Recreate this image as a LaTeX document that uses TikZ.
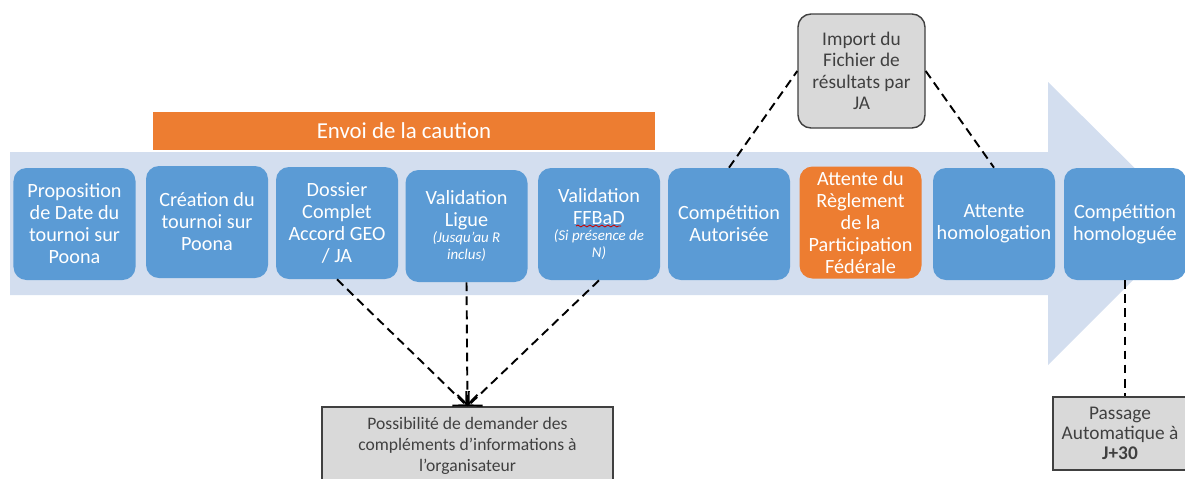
\documentclass[tikz,border=0pt]{standalone}
\usepackage{fontspec}
\setmainfont{Carlito}
\usetikzlibrary{arrows.meta, positioning, decorations.pathmorphing}

\definecolor{stepblue}{HTML}{5B9BD5}
\definecolor{bandblue}{HTML}{D3DEEF}
\definecolor{cautionorange}{HTML}{ED7D31}
\definecolor{notegray}{HTML}{D9D9D9}
\definecolor{notedark}{HTML}{404040}
\newcommand{\smallit}{\fontsize{8.5}{9.5}\selectfont\itshape}

\begin{document}
\begin{tikzpicture}[x=0.2mm,y=-0.2mm,
    stepbox/.style={fill=stepblue, rounded corners=2.6mm, text=white, align=center,
      minimum width=24.4mm, minimum height=22.4mm, inner sep=0.5mm,
      font=\fontsize{11.5}{12.5}\selectfont},
    notebox/.style={draw=notedark, line width=0.8pt, fill=notegray, text=notedark,
      align=center, inner sep=0.5mm},
    dashlink/.style={line width=1.1pt, dash pattern=on 5pt off 3pt}]
    \clip (0,0) rectangle (1185,478);

    % Background arrow
    \fill[bandblue] (10,152) -- (1048,152) -- (1048,82) -- (1190,223)
        -- (1048,365) -- (1048,295) -- (10,295) -- cycle;

    % Caution bar
    \node[fill=cautionorange, text=white, minimum width=100.4mm, minimum height=7.6mm,
        font=\fontsize{13}{14}\selectfont] (caution) at (404,131) {Envoi de la caution};

    % Steps
    \node[stepbox] (prop) at (74.5,224) {Proposition\\de Date du\\tournoi sur\\Poona};
    \node[stepbox] (crea) at (207,222) {Création du\\tournoi sur\\Poona};
    \node[stepbox] (doss) at (337,223) {Dossier\\Complet\\Accord GEO\\/ JA};
    \node[stepbox] (ligue) at (466.5,226) {Validation\\Ligue\\[-3pt]{\smallit (Jusqu’au R}\\[-3pt]{\smallit inclus)}};
    \node[stepbox] (ffbad) at (599,224) {Validation\\FFBaD\\[-3pt]{\smallit (Si présence de}\\[-3pt]{\smallit N)}};
    \node[stepbox] (auto) at (729,224) {Compétition\\Autorisée};
    \node[stepbox, fill=cautionorange] (regl) at (860.5,222.5) {Attente du\\Règlement\\de la\\Participation\\Fédérale};
    \node[stepbox] (homo) at (994,224) {Attente\\homologation};
    \node[stepbox] (fini) at (1125,224) {Compétition\\homologuée};

    % Spell-check mark under FFBaD
    \draw[red!80!black, line width=0.5pt, decorate, decoration={snake, amplitude=0.5pt, segment length=1.2mm}]
        ([xshift=-4.6mm,yshift=-0.4mm]ffbad.center) -- ([xshift=4.4mm,yshift=-0.4mm]ffbad.center);

    % Notes
    \node[notebox, rounded corners=2.6mm, minimum width=25.4mm, minimum height=22.8mm,
        font=\fontsize{11}{12.2}\selectfont] (import) at (861.5,71) {Import du\\Fichier de\\résultats par\\JA};
    \node[notebox, minimum width=58.2mm, minimum height=15.6mm,
        font=\fontsize{10}{12}\selectfont] (demande) at (467.5,446)
        {Possibilité de demander des\\compléments d’informations à\\l’organisateur};
    \node[notebox, minimum width=26.8mm, minimum height=14.6mm,
        font=\fontsize{11}{11.2}\selectfont] (passage) at (1120,433.5) {Passage\\Automatique à\\\textbf{J+30}};

    % Links
    \draw[dashlink] (auto.north) -- (import.west);
    \draw[dashlink] (import.east) -- (homo.north);
    \draw[dashlink,-{Straight Barb[length=2mm]}] (doss.south) -- (demande.north);
    \draw[dashlink,-{Straight Barb[length=2mm]}] (ligue.south) -- (demande.north);
    \draw[dashlink,-{Straight Barb[length=2mm]}] (ffbad.south) -- (demande.north);
    \draw[dashlink] (fini.south) -- (fini.south |- passage.north);
\end{tikzpicture}
\end{document}
